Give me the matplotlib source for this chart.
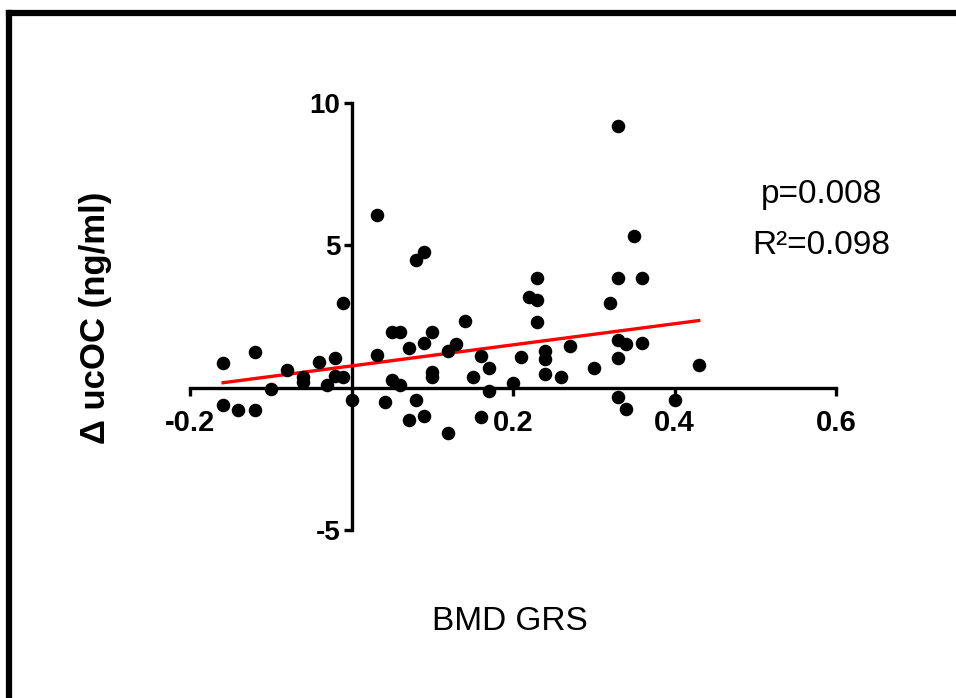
# plot.py
# Scatter of change in ucOC against BMD GRS with linear fit

import numpy as np
import matplotlib
matplotlib.use("Agg")
import matplotlib.pyplot as plt
from matplotlib.lines import Line2D

plt.rcParams['font.family'] = ['Liberation Sans', 'DejaVu Sans']
plt.rcParams['axes.unicode_minus'] = False

# Data
bmd_grs = [-0.159, -0.159, -0.140, -0.120, -0.120, -0.100, -0.080, -0.060, -0.060,
           -0.040, -0.030, -0.020, -0.020, -0.010, -0.010, 0.000, 0.031, 0.031,
           0.041, 0.050, 0.060, 0.050, 0.060, 0.071, 0.080, 0.090, 0.080, 0.071,
           0.090, 0.090, 0.100, 0.100, 0.100, 0.120, 0.120, 0.130, 0.140, 0.150,
           0.160, 0.160, 0.170, 0.170, 0.200, 0.210, 0.220, 0.230, 0.230, 0.230,
           0.240, 0.240, 0.240, 0.260, 0.270, 0.300, 0.320, 0.330, 0.330, 0.330,
           0.330, 0.330, 0.340, 0.340, 0.350, 0.360, 0.360, 0.400, 0.430]
delta_ucoc = [0.88, -0.62, -0.80, -0.80, 1.25, -0.05, 0.62, 0.38, 0.20,
              0.90, 0.08, 1.04, 0.42, 0.36, 2.97, -0.42, 6.07, 1.16,
              -0.51, 1.97, 1.97, 0.28, 0.08, 1.39, 4.47, 4.77, -0.45, -1.13,
              -1.01, 1.56, 1.97, 0.54, 0.37, -1.59, 1.30, 1.53, 2.34, 0.37,
              1.10, -1.03, 0.68, -0.13, 0.18, 1.07, 3.20, 3.07, 3.86, 2.29,
              1.30, 0.99, 0.47, 0.38, 1.48, 0.69, 2.99, 3.85, 9.18, 1.67,
              1.05, -0.33, 1.55, -0.74, 5.34, 3.84, 1.56, -0.44, 0.78]

x_ticks = [-0.2, 0.2, 0.4, 0.6]
y_ticks = [-5, 5, 10]
p_text = "p=0.008"
r2_text = "R\u00b2=0.098"

W, H = 956, 698


def main():
    fig = plt.figure(figsize=(W / 100, H / 100), dpi=100)
    fig.patch.set_facecolor("white")

    # axes box in pixel terms: x -0.2..0.6 -> 190..836, y -5..10 -> 530..103
    ax = fig.add_axes([190 / W, 1 - 530 / H, (836 - 190) / W, (530 - 103) / H])
    ax.set_xlim(-0.2, 0.6)
    ax.set_ylim(-5, 10)
    ax.patch.set_alpha(0)

    for s in ["top", "right"]:
        ax.spines[s].set_visible(False)
    ax.spines["left"].set_position(("data", 0))
    ax.spines["bottom"].set_position(("data", 0))
    for s in ["left", "bottom"]:
        ax.spines[s].set_linewidth(2.4)

    ax.set_xticks(x_ticks)
    ax.set_xticklabels([f"{t:g}" for t in x_ticks])
    ax.set_yticks(y_ticks)
    ax.set_yticklabels([f"{t:g}" for t in y_ticks])
    ax.tick_params(axis="both", width=2.4, length=6)
    ax.tick_params(axis="x", pad=9, labelsize=21)
    ax.tick_params(axis="y", pad=2, labelsize=20)
    for lab in ax.get_xticklabels() + ax.get_yticklabels():
        lab.set_fontweight("bold")

    # linear fit
    x = np.array(bmd_grs)
    y = np.array(delta_ucoc)
    slope, intercept = np.polyfit(x, y, 1)
    xs = np.array([x.min(), x.max()])
    ax.plot(xs, slope * xs + intercept, color="#ff0000", lw=2.4, zorder=3)

    ax.scatter(x, y, s=95, color="black", zorder=4, clip_on=False, linewidths=0)

    fig.text(95 / W, 1 - 318 / H, "\u0394 ucOC (ng/ml)", rotation=90, ha="center",
             va="center", fontsize=25, fontweight="bold")
    fig.text(510 / W, 1 - 621 / H, "BMD GRS", ha="center", va="center", fontsize=24)
    fig.text(821 / W, 1 - 194 / H, p_text, ha="center", va="center", fontsize=24)
    fig.text(821 / W, 1 - 246 / H, r2_text, ha="center", va="center", fontsize=24)

    # frame at the left and top of the picture
    fig.add_artist(Line2D([9 / W, 9 / W], [0, 1 - 13 / H], color="black", lw=4.5,
                          solid_capstyle="projecting"))
    fig.add_artist(Line2D([9 / W, 1], [1 - 13 / H, 1 - 13 / H], color="black", lw=4.5,
                          solid_capstyle="projecting"))

    fig.savefig("out.png", dpi=100)


if __name__ == "__main__":
    main()
